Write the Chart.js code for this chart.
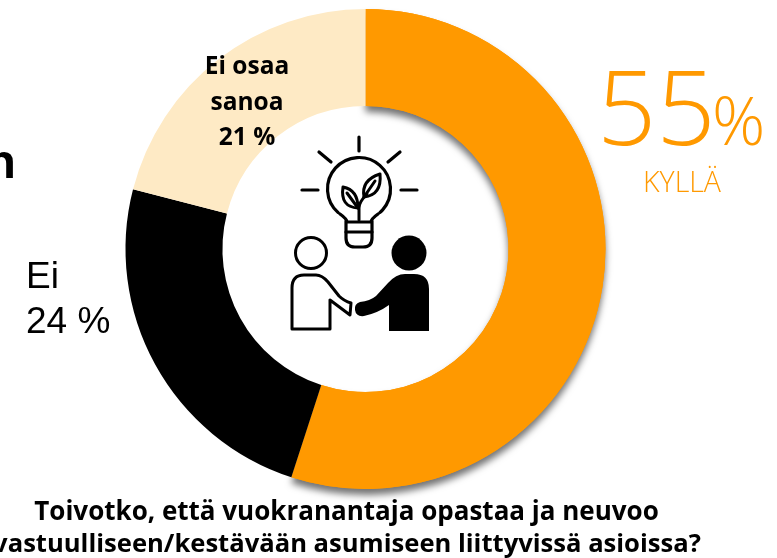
<!DOCTYPE html>
<html><head><meta charset="utf-8">
<style>
html,body{margin:0;padding:0;background:#fff;width:777px;height:558px;overflow:hidden}
#w{position:absolute;left:0;top:0;width:777px;height:558px}
</style></head><body>
<div id="w"><canvas id="c" width="777" height="558"></canvas></div>
<script src="https://cdn.jsdelivr.net/npm/chart.js@4"></script>
<script>
const categories=["Kyllä","Ei","Ei osaa sanoa"];
const values=[55,24,21];
const colors=["#FF9900","#000000","#FEEAC5"];
const titleLines=["Toivotko, että vuokranantaja opastaa ja neuvoo","vastuulliseen/kestävään asumiseen liittyvissä asioissa?"];
const plugin={id:'ann',
beforeDatasetsDraw(ch){
 const g=ch.ctx,a=ch.getDatasetMeta(0).data[0];
 g.save();g.shadowColor='rgba(0,0,0,0.55)';g.shadowBlur=7;g.shadowOffsetX=0;g.shadowOffsetY=6;
 a.draw(g);g.restore();
},
afterDraw(ch){
 const g=ch.ctx;g.save();
 g.textAlign='center';g.textBaseline='alphabetic';
 g.fillStyle='#000';g.font='bold 24.5px "Open Sans"';
 g.fillText('Ei osaa',247,74);g.fillText('sanoa',247,110);g.fillText('21 %',247,145);
 g.textAlign='left';g.font='37px "Liberation Sans"';
 g.fillText('Ei',26,288);g.fillText('24 %',26,333);
 g.textAlign='right';g.font='bold 49px "Liberation Sans"';g.fillText('n',16,178);
 g.textAlign='left';
 g.fillStyle='#FF9900';g.font='300 104px "Open Sans"';g.fillText('55',597,145);
 g.font='300 66px "Open Sans"';g.fillText('%',712,145);
 g.font='300 28.5px "Open Sans"';g.textAlign='center';g.fillText('KYLLÄ',682,192);
 g.fillStyle='#000';g.font='bold 26px "Open Sans"';
 g.fillText(titleLines[0],346.5,520);
 g.font='bold 25.6px "Open Sans"';
 g.fillText(titleLines[1],347,552);
 // icon
 g.strokeStyle='#000';g.lineWidth=3.2;g.lineCap='round';g.lineJoin='round';
 const L=(a,b,c,d)=>{g.beginPath();g.moveTo(a,b);g.lineTo(c,d);g.stroke();};
 L(359,137,359,151);L(319,152,331,162);L(400,152,388,162);L(302,190,318,190);L(401,190,417,190);
 // bulb
 g.beginPath();g.arc(359,189,31.5,Math.PI*0.73,Math.PI*0.27);g.stroke();
 g.beginPath();g.moveTo(340,214);g.quadraticCurveTo(347,219,347,222);g.lineTo(371,222);g.quadraticCurveTo(371,219,378,214);g.stroke();
 g.beginPath();g.moveTo(346,221);g.lineTo(346,238);g.quadraticCurveTo(346,247,355,247);g.lineTo(363,247);g.quadraticCurveTo(372,247,372,238);g.lineTo(372,221);g.stroke();
 L(346,232,372,232);
 // leaves
 g.lineWidth=3;
 g.beginPath();g.moveTo(359,220);g.lineTo(359,208);g.quadraticCurveTo(359,202,367,194);g.stroke();
 g.beginPath();g.moveTo(343,187);g.quadraticCurveTo(358,190,358,208);g.quadraticCurveTo(340,207,343,187);g.stroke();
 L(347,193,358,208);
 g.beginPath();g.moveTo(380,174);g.quadraticCurveTo(382,195,364,197);g.quadraticCurveTo(361,180,380,174);g.stroke();
 L(375,181,364,197);
 // left person
 g.lineWidth=3;g.lineCap='butt';
 g.beginPath();g.arc(311,253,15.5,0,Math.PI*2);g.stroke();
 g.beginPath();g.moveTo(292,329);g.lineTo(292,288);g.quadraticCurveTo(292,275,304,275);g.lineTo(316,275);g.quadraticCurveTo(322,275,328,282);g.lineTo(339,296);g.quadraticCurveTo(344,301,351,303);g.lineTo(350,315);g.lineTo(330,300);g.lineTo(330,329);g.closePath();g.stroke();
 // right person
 g.fillStyle='#000';
 g.beginPath();g.arc(409,253,17.5,0,Math.PI*2);g.fill();
 g.beginPath();g.moveTo(389,331);g.lineTo(429,331);g.lineTo(429,289);g.quadraticCurveTo(429,274,414,274);g.lineTo(405,274);g.quadraticCurveTo(396,274,388,283);g.lineTo(376,296);g.quadraticCurveTo(370,301,360,302);g.quadraticCurveTo(354,304,355,310);g.quadraticCurveTo(356,317,364,316);g.quadraticCurveTo(378,313,389,305);g.closePath();g.fill();
 g.restore();
}};
new Chart(document.getElementById('c'),{
 type:'doughnut',
 data:{labels:categories,datasets:[{data:values,backgroundColor:colors,borderWidth:0}]},
 options:{responsive:false,animation:false,cutout:'59.6%',
  layout:{padding:{left:125,right:171,top:9,bottom:69}},
  plugins:{legend:{display:false},tooltip:{enabled:false}}},
 plugins:[plugin]
});
</script></body></html>
